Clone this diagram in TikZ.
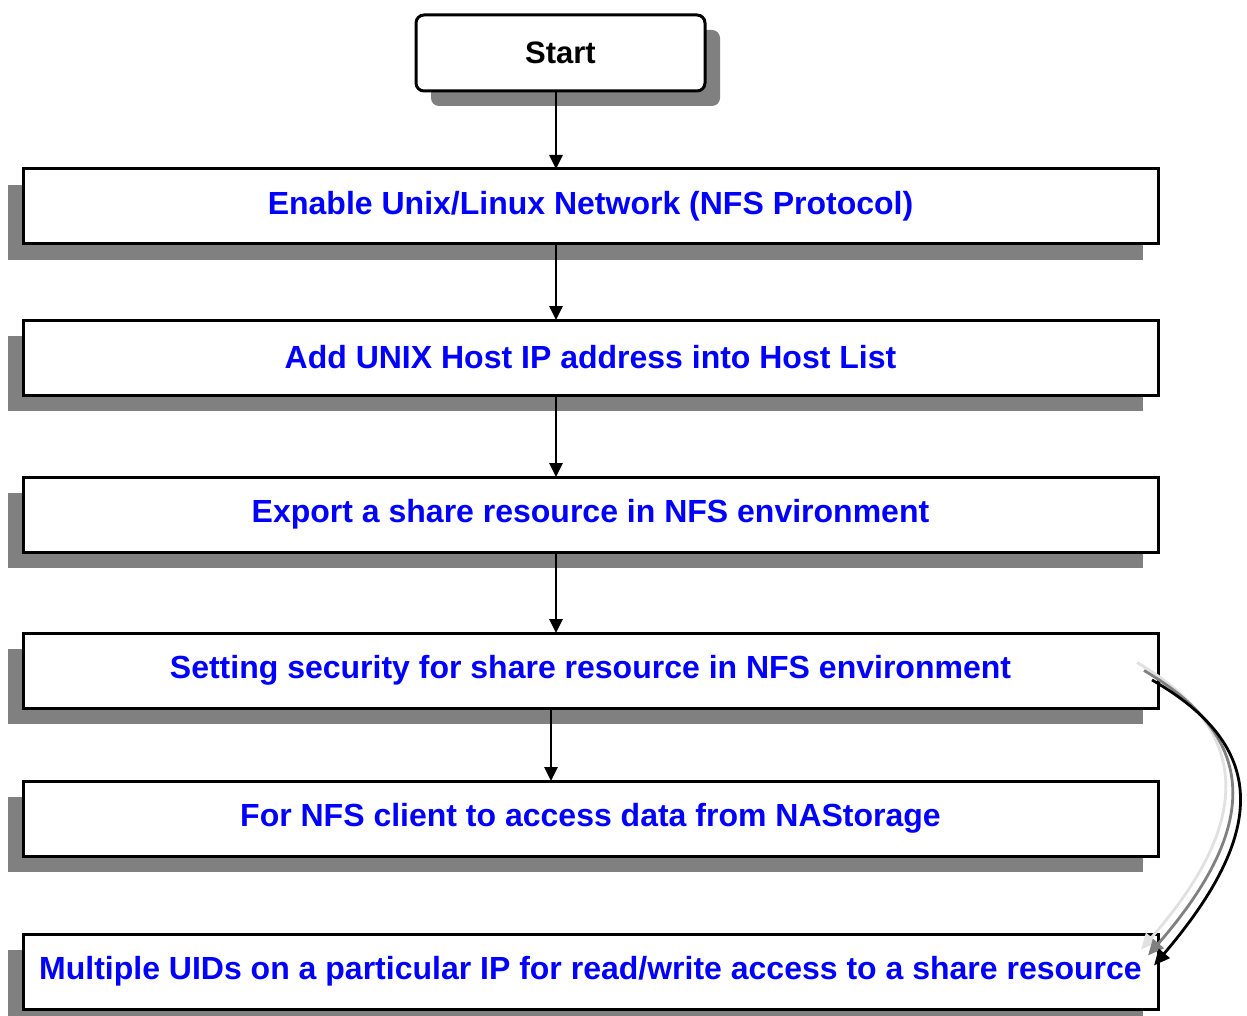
\documentclass[tikz,border=0pt]{standalone}
\usepackage{fontspec}
\setmainfont{Liberation Sans}
\usetikzlibrary{arrows.meta,shadows,calc}
\definecolor{txtblue}{RGB}{0,0,255}
\definecolor{shd}{RGB}{128,128,128}
\definecolor{lshd}{RGB}{225,225,225}
\begin{document}
\begin{tikzpicture}[x=1pt,y=-1pt,
  stepbox/.style={draw=black, line width=3pt, fill=white, minimum width=1135pt, minimum height=75pt,
    inner sep=0pt, outer sep=0pt, font=\fontsize{32}{36}\selectfont\bfseries, text=txtblue,
    drop shadow={shadow xshift=-15pt, shadow yshift=-16pt, fill=shd, opacity=1}},
  startbox/.style={draw=black, line width=3pt, fill=white, rounded corners=8pt, minimum width=289pt, minimum height=76pt,
    inner sep=0pt, outer sep=0pt, font=\fontsize{31}{35}\selectfont\bfseries, text=black,
    drop shadow={shadow xshift=15pt, shadow yshift=-15pt, fill=shd, opacity=1}},
  arr/.style={line width=2.8pt, -{Triangle[width=13pt,length=14pt]}},
  carr/.style={line width=2.8pt, -{Triangle[width=14pt,length=16pt]}}]
\useasboundingbox (0,0) rectangle (1247,1016);
\node[startbox] (start) at (560.5,53) {Start};
\node[stepbox] (b1) at (590.5,206.5) {Enable Unix/Linux Network (NFS Protocol)};
\node[stepbox] (b2) at (590.5,357.5) {Add UNIX Host IP address into Host List};
\node[stepbox] (b3) at (590.5,514.5) {Export a share resource in NFS environment};
\node[stepbox] (b4) at (590.5,670.5) {Setting security for share resource in NFS environment};
\node[stepbox] (b5) at (590.5,818.5) {For NFS client to access data from NAStorage};
\node[stepbox] (b6) at (590.5,971.5) {Multiple UIDs on a particular IP for read/write access to a share resource};
\draw[arr] ([xshift=-4.5pt]start.south) -- ([xshift=-4.5pt]start.south |- b1.north);
\draw[arr] ([xshift=-34.5pt]b1.south) -- ([xshift=-34.5pt]b2.north);
\draw[arr] ([xshift=-34.5pt]b2.south) -- ([xshift=-34.5pt]b3.north);
\draw[arr] ([xshift=-34.5pt]b3.south) -- ([xshift=-34.5pt]b4.north);
\draw[arr] ([xshift=-39.5pt]b4.south) -- ([xshift=-39.5pt]b5.north);
\draw[carr, draw=lshd] ($(b4.east)+(-21,-8)$) .. controls ($(b4.east)+(95,60)$) and ($(b6.east)+(95,-150)$) .. ($(b6.east)+(-17,-22)$);
\draw[carr, draw=shd] ($(b4.east)+(-14,0)$) .. controls ($(b4.east)+(102,68)$) and ($(b6.east)+(102,-145)$) .. ($(b6.east)+(-10,-16)$);
\draw[carr] ($(b4.east)+(-6,9.5)$) .. controls ($(b4.east)+(110,76)$) and ($(b6.east)+(110,-140)$) .. ($(b6.east)+(-4,-6)$);
\end{tikzpicture}
\end{document}
